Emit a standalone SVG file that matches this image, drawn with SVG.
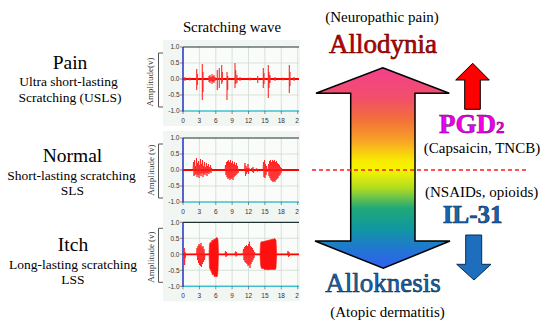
<svg xmlns="http://www.w3.org/2000/svg" xmlns:xlink="http://www.w3.org/1999/xlink" width="550" height="330" viewBox="0 0 550 330">
<style>
.serif{font-family:"Liberation Serif","Times New Roman",serif;fill:#000}
.ttl{font-size:19.5px;text-anchor:middle}
.sub{font-size:13.5px;text-anchor:middle}
.note{font-size:15px;text-anchor:middle}
.big{font-size:27px;text-anchor:middle}
.tick{font-family:"Liberation Sans",Arial,sans-serif;font-size:6.5px;fill:#333}
.yl{text-anchor:end}
.xl{text-anchor:middle}
.amp{font-family:"Liberation Serif","Times New Roman",serif;font-size:9px;fill:#333;text-anchor:middle}
.grid{stroke:#cdd5cd;stroke-width:0.7;fill:none}
.wave{stroke:#ff1a1a;stroke-width:0.8;fill:none;stroke-linejoin:bevel}
.spk{stroke:#ff2a2a;stroke-width:1.1;fill:none}
.base{stroke:#ff0000;stroke-width:1.8}
.solid{fill:#ff1010;stroke:#ff1a1a;stroke-width:0.6}
</style>
<defs>
<linearGradient id="rainbow" x1="0" y1="67.7" x2="0" y2="268.3" gradientUnits="userSpaceOnUse">
<stop offset="0" stop-color="#f2408c"/>
<stop offset="0.16" stop-color="#f25068"/>
<stop offset="0.26" stop-color="#f27038"/>
<stop offset="0.36" stop-color="#f8a028"/>
<stop offset="0.465" stop-color="#f8ec00"/>
<stop offset="0.51" stop-color="#f6f400"/>
<stop offset="0.6" stop-color="#b0dc20"/>
<stop offset="0.7" stop-color="#20a878"/>
<stop offset="0.8" stop-color="#1098a0"/>
<stop offset="0.9" stop-color="#2078d0"/>
<stop offset="1" stop-color="#3060f0"/>
</linearGradient>
<g id="frame">
<rect x="163" y="-7" width="137" height="86" fill="#f2f6f2"/>
<rect x="183" y="0" width="116" height="64" fill="#f9fcf8"/>
<path class="grid" d="M199.4,0V64M215.8,0V64M232.1,0V64M248.5,0V64M264.9,0V64M281.3,0V64M297.7,0V64M183,16H299M183,32H299M183,48H299"/>
<path d="M183,0H299" stroke="#203030" stroke-width="1.2"/>
<path d="M183,64H299" stroke="#40c0d0" stroke-width="1.5"/>
<path d="M183,0V64.5" stroke="#2030c0" stroke-width="1.5"/>
<path d="M180,0H183M180,16H183M180,32H183M180,48H183M180,64H183M183,64V67M199.4,64V67M215.8,64V67M232.1,64V67M248.5,64V67M264.9,64V67M281.3,64V67M297.7,64V67" stroke="#444" stroke-width="0.6"/>
<text class="tick yl" x="179.5" y="2.3">1.0</text>
<text class="tick yl" x="179.5" y="18.3">0.5</text>
<text class="tick yl" x="179.5" y="34.3">0.0</text>
<text class="tick yl" x="179.5" y="50.3">-0.5</text>
<text class="tick yl" x="179.5" y="66.3">-1.0</text>
<text class="tick xl" x="183" y="76">0</text>
<text class="tick xl" x="199.4" y="76">3</text>
<text class="tick xl" x="215.8" y="76">6</text>
<text class="tick xl" x="232.1" y="76">9</text>
<text class="tick xl" x="248.5" y="76">12</text>
<text class="tick xl" x="264.9" y="76">15</text>
<text class="tick xl" x="281.3" y="76">18</text>
<text class="tick xl" x="297" y="76">2</text>
<path d="M163,6H158.5V60H163" fill="none" stroke="#555" stroke-width="1"/>
</g>
</defs>

<g id="title">
<text class="serif" x="232" y="31.5" font-size="14.8" text-anchor="middle">Scratching wave</text>
</g>

<g id="pain-label">
<text class="serif ttl" x="70" y="69">Pain</text>
<text class="serif sub" x="68.5" y="86">Ultra short-lasting</text>
<text class="serif sub" x="70" y="101.5">Scratching (USLS)</text>
</g>
<g id="normal-label">
<text class="serif ttl" x="72.5" y="161.5">Normal</text>
<text class="serif sub" x="71.5" y="180">Short-lasting scratching</text>
<text class="serif sub" x="72.5" y="195">SLS</text>
</g>
<g id="itch-label">
<text class="serif ttl" x="73" y="250.5">Itch</text>
<text class="serif sub" x="73" y="269.3">Long-lasting scratching</text>
<text class="serif sub" x="73" y="284.3">LSS</text>
</g>

<g id="chart-pain">
<use xlink:href="#frame" transform="translate(0,47)"/>
<text class="amp" transform="translate(153,82) rotate(-90)" font-size="8">Amplitude(v)</text>
<path class="base" d="M183,79H299"/>
<path class="spk" d="M185,77V81M190,77.5V80.5M196.7,69V90M197.4,74V85M202.3,64V100M203,72V92M209,76V82M210,75V83M211,77V81M212,74V84M213,76V82M214,75V83M215,77V81M217.3,70V90M219.3,68V88M221.7,65V84M222.4,72V82M227,72V100M227.7,76V90M235,63V88M235.7,70V84M237,75V83M240,77V81M250,77.5V80.5M257.7,76V83M263.3,68V88M264,73V84M268.3,65V98M269,72V88M270,75V83M275,77V81M283,77.5V80.5M289.3,65V93M290,72V86M294,77V81"/>
</g>

<g id="chart-normal">
<use xlink:href="#frame" transform="translate(0,138)"/>
<text class="amp" transform="translate(153.5,170) rotate(-90)">Amplitude (v)</text>
<path class="base" d="M183,170H299"/>
<path class="wave" d="M193,170L193.5,162L194,176L194.5,160L195,175L195.5,166L196,174L196.5,158L197,177L197.5,163L198,175L198.5,161L199,178L199.5,165L200,174L200.5,159L201,176L201.5,164L202,173L202.5,160L203,177L203.5,166L204,174L204.5,162L205,175L205.5,167L206,173L206.5,163L207,176L207.5,166L208,173L208.5,164L209,174L209.5,167L210,172L210.5,165L211,173L211.5,168L212,170
M225,170L225.5,165L226,175L226.5,162L227,177L227.5,161L228,179L228.5,160L229,178L229.5,162L230,180L230.5,160L231,179L231.5,163L232,178L232.5,161L233,180L233.5,164L234,177L234.5,162L235,176L235.5,165L236,175L236.5,163L237,174L237.5,166L238,173L238.5,170
M244.5,170L245,163L245.5,176L246,166L246.5,174L247,168L247.5,172L248,164L248.5,174L249,168L249.5,171L250,170L252,168L252.5,172L253,167L253.5,173L254,170L257,168.5L257.5,171.5L258,170
M263,170L263.5,162L264,177L264.5,160L265,178L265.5,164L266,175L266.5,166L267,172L268,170L268.5,164L269,176L269.5,161L270,178L270.5,160L271,180L271.5,162L272,181L272.5,160L273,182L273.5,161L274,181L274.5,160L275,182L275.5,162L276,180L276.5,161L277,179L277.5,163L278,178L278.5,164L279,176L279.5,165L280,175L280.5,167L281,173L281.5,168L282,170"/>
</g>

<g id="chart-itch">
<use xlink:href="#frame" transform="translate(0,222.3)"/>
<text class="amp" transform="translate(153.5,257) rotate(-90)">Amplitude (v)</text>
<path class="base" d="M183,254.3H299"/>
<path class="wave" d="M184,254L184.3,248L184.6,265L185,252L185.3,258L185.6,254
M196.5,254L197,248L197.5,260L198,246L198.5,263L199,244L199.5,265L200,245L200.5,266L201,243L201.5,267L202,247L202.5,264L203,246L203.5,262L204,249L204.5,260L205,254
M225,254L225.5,251L226,257L226.5,252L227,256L227.5,254M235,254L235.5,251.5L236,256.5L236.5,252L237,255.5L237.5,254
M243,254L243.5,249L244,260L244.5,247L245,262L245.5,246L246,263L246.5,245L247,264L247.5,246L248,266L248.5,244L249,265L249.5,241.7L250,268L250.5,246L251,264L251.5,247L252,262L252.5,248L253,260L253.5,250L254,258L254.5,252L255,254
M287.5,254L288,251L288.5,257L289,252L289.5,256L290,254"/>
<polygon class="solid" points="209,254 209.5,244 210.5,242 211,244 212,240 213,241 214,239 215,239.5 216,238 217,237.5 217.5,238 218,240 218.5,254 218,270 217.5,276 216.5,277 215.5,276 214.5,277 213.5,274 212.5,275 211.5,272 210.5,270 209.5,268"/>
<polygon class="solid" points="260,254 260.5,244 261,242 262,241.5 263,242 264,241 265,241.5 266,240.5 267,241 268,240 269,240.5 270,239.5 271,240 272,239 273,239.5 274,238.5 275,239 276,240 276.7,254 276,268 275,270 274,269 273,270 272,269 271,270 270,269 269,270 268,269.5 267,270 266,269 265,270 264,269 263,268 262,269 261,267 260.5,264"/>
</g>

<g id="connectors">
<polygon id="scale-arrow" points="382.7,67.7 449.3,93.3 415,93.3 415,241 450,241 383.3,268.3 315,241 350.7,241 350.7,93.3 316,93.3" fill="url(#rainbow)" stroke="#000" stroke-width="1.5" stroke-linejoin="miter"/>
<path id="divider" d="M312,170H527" stroke="#ff1a1a" stroke-width="1.3" stroke-dasharray="4,3"/>
<polygon id="up-arrow" points="472.7,63.3 489.3,80 480.3,80 480.3,109.3 464.7,109.3 464.7,80 455.7,80" fill="#ff0000" stroke="#000" stroke-width="1"/>
<polygon id="down-arrow" points="465.7,235 481.7,235 481.7,264.3 491,264.3 474,280 456.7,264.3 465.7,264.3" fill="#1e6ebe" stroke="#0a2a50" stroke-width="1"/>
</g>

<g id="allodynia">
<text class="serif note" x="382" y="21.7">(Neuropathic pain)</text>
<text class="serif big" x="383" y="53.3" style="fill:#c80000;stroke:#5a0000;stroke-width:0.6">Allodynia</text>
</g>
<g id="pgd2">
<text class="serif" x="439" y="133.3" font-size="27" font-weight="bold" style="fill:#ee00ee;stroke:#700070;stroke-width:0.5">PGD<tspan font-size="17">2</tspan></text>
<text class="serif note" x="482" y="153.3">(Capsaicin, TNCB)</text>
</g>
<g id="il31">
<text class="serif note" x="481.7" y="197.3">(NSAIDs, opioids)</text>
<text class="serif" x="472.7" y="223.3" font-size="25" font-weight="bold" text-anchor="middle" style="fill:#1565b5;stroke:#0a2848;stroke-width:0.6">IL-31</text>
</g>
<g id="alloknesis">
<text class="serif big" x="383" y="291.7" style="fill:#1565b5;stroke:#0a2848;stroke-width:0.6">Alloknesis</text>
<text class="serif note" x="387.5" y="316.7">(Atopic dermatitis)</text>
</g>
</svg>
